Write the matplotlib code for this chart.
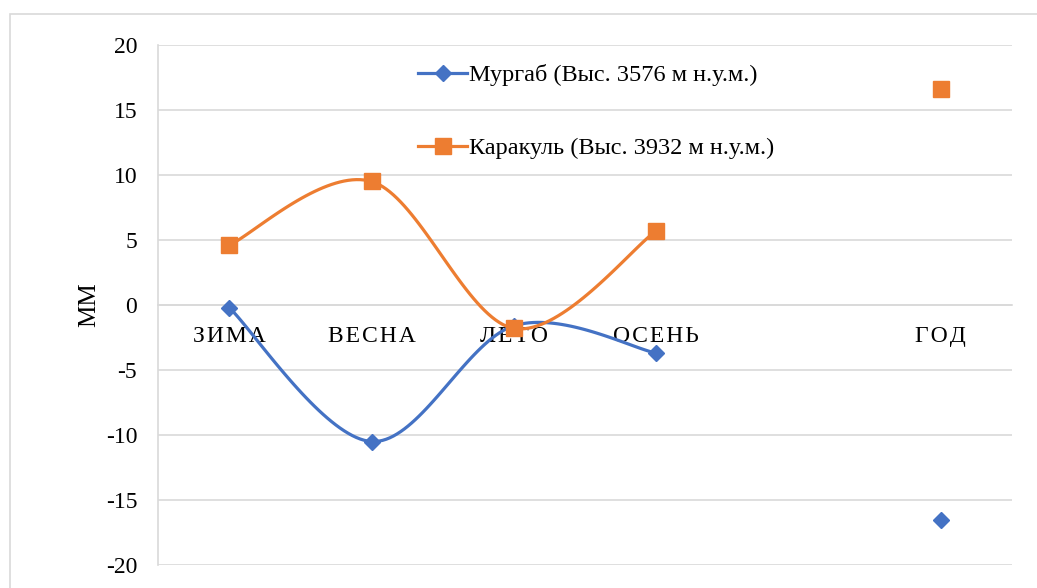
import numpy as np
import matplotlib.pyplot as plt
from matplotlib.patches import Rectangle

plt.rcParams['font.family'] = ['Liberation Serif', 'DejaVu Serif']
plt.rcParams['axes.unicode_minus'] = False

seasons = ['ЗИМА', 'ВЕСНА', 'ЛЕТО', 'ОСЕНЬ', '', 'ГОД']
murgab = [-0.2, -10.5, -1.6, -3.7, np.nan, -16.5]
karakul = [4.6, 9.5, -1.8, 5.7, np.nan, 16.6]
label_murgab = 'Мургаб (Выс. 3576 м н.у.м.)'
label_karakul = 'Каракуль (Выс. 3932 м н.у.м.)'

blue = '#4472C4'
orange = '#ED7D31'
grid = '#D9D9D9'


def smooth(xs, ys, n=40):
    # bezier smoothing through the points, like a spreadsheet "smoothed line"
    pts = np.column_stack([xs, ys]).astype(float)
    if len(pts) < 2:
        return pts
    t = np.linspace(0, 1, n)[:, None]
    out = []
    for i in range(len(pts) - 1):
        p0 = pts[max(i - 1, 0)]
        p1 = pts[i]
        p2 = pts[i + 1]
        p3 = pts[min(i + 2, len(pts) - 1)]
        c1 = p1 + (p2 - p0) / 6
        c2 = p2 - (p3 - p1) / 6
        out.append((1 - t)**3 * p1 + 3 * (1 - t)**2 * t * c1
                   + 3 * (1 - t) * t**2 * c2 + t**3 * p2)
    return np.vstack(out)


def runs(vals):
    # split series at gaps
    idx = [i for i, v in enumerate(vals) if not np.isnan(v)]
    groups, cur = [], []
    for i in idx:
        if cur and i != cur[-1] + 1:
            groups.append(cur)
            cur = []
        cur.append(i)
    if cur:
        groups.append(cur)
    return groups


fig = plt.figure(figsize=(10.37, 5.88), dpi=100)
ax = fig.add_axes([0.1524, 0.0391, 0.8235, 0.8844])

x = np.arange(len(seasons))
for vals, color, marker, ms, label in [
        (murgab, blue, 'D', 8.5, label_murgab),
        (karakul, orange, 's', 11, label_karakul)]:
    for g in runs(vals):
        if len(g) > 1:
            curve = smooth(x[g], np.array(vals)[g])
            ax.plot(curve[:, 0], curve[:, 1], color=color, lw=2.3,
                    solid_capstyle='round', zorder=3)
    ax.plot(x, vals, ls='none', marker=marker, ms=ms, color=color, zorder=4)
    ax.plot([], [], color=color, lw=2.3, marker=marker, ms=ms, label=label)

for side in ['top', 'right']:
    ax.spines[side].set_visible(False)
ax.spines['left'].set_color(grid)
ax.spines['left'].set_linewidth(1.2)
ax.spines['bottom'].set_position(('data', 0))
ax.spines['bottom'].set_color(grid)
ax.spines['bottom'].set_linewidth(1.2)

ax.set_xlim(-0.5, len(seasons) - 0.5)
ax.set_ylim(-20, 20)
ax.set_yticks(np.arange(-20, 21, 5))
ax.set_xticks(x)
ax.set_xticklabels(['\u200a'.join(s) for s in seasons])
ax.tick_params(axis='x', length=0, pad=15, labelsize=17)
ax.tick_params(axis='y', length=0, pad=15, labelsize=17)
ax.grid(axis='y', color=grid, lw=1.2)
ax.set_axisbelow(True)

ax.set_ylabel('ММ', fontsize=18, labelpad=4)

ax.legend(loc='upper left', bbox_to_anchor=(0.282, 1.0), frameon=False,
          fontsize=17.5, handlelength=2.0, handletextpad=0.1,
          labelspacing=2.1, borderpad=0.3)

# outer chart border
fig.add_artist(Rectangle((10 / 1037, -0.1), 1.2, 1 - 14 / 588 + 0.1,
                         transform=fig.transFigure, fill=False,
                         edgecolor=grid, lw=1.2, clip_on=False))

fig.savefig('out.png', dpi=100)
